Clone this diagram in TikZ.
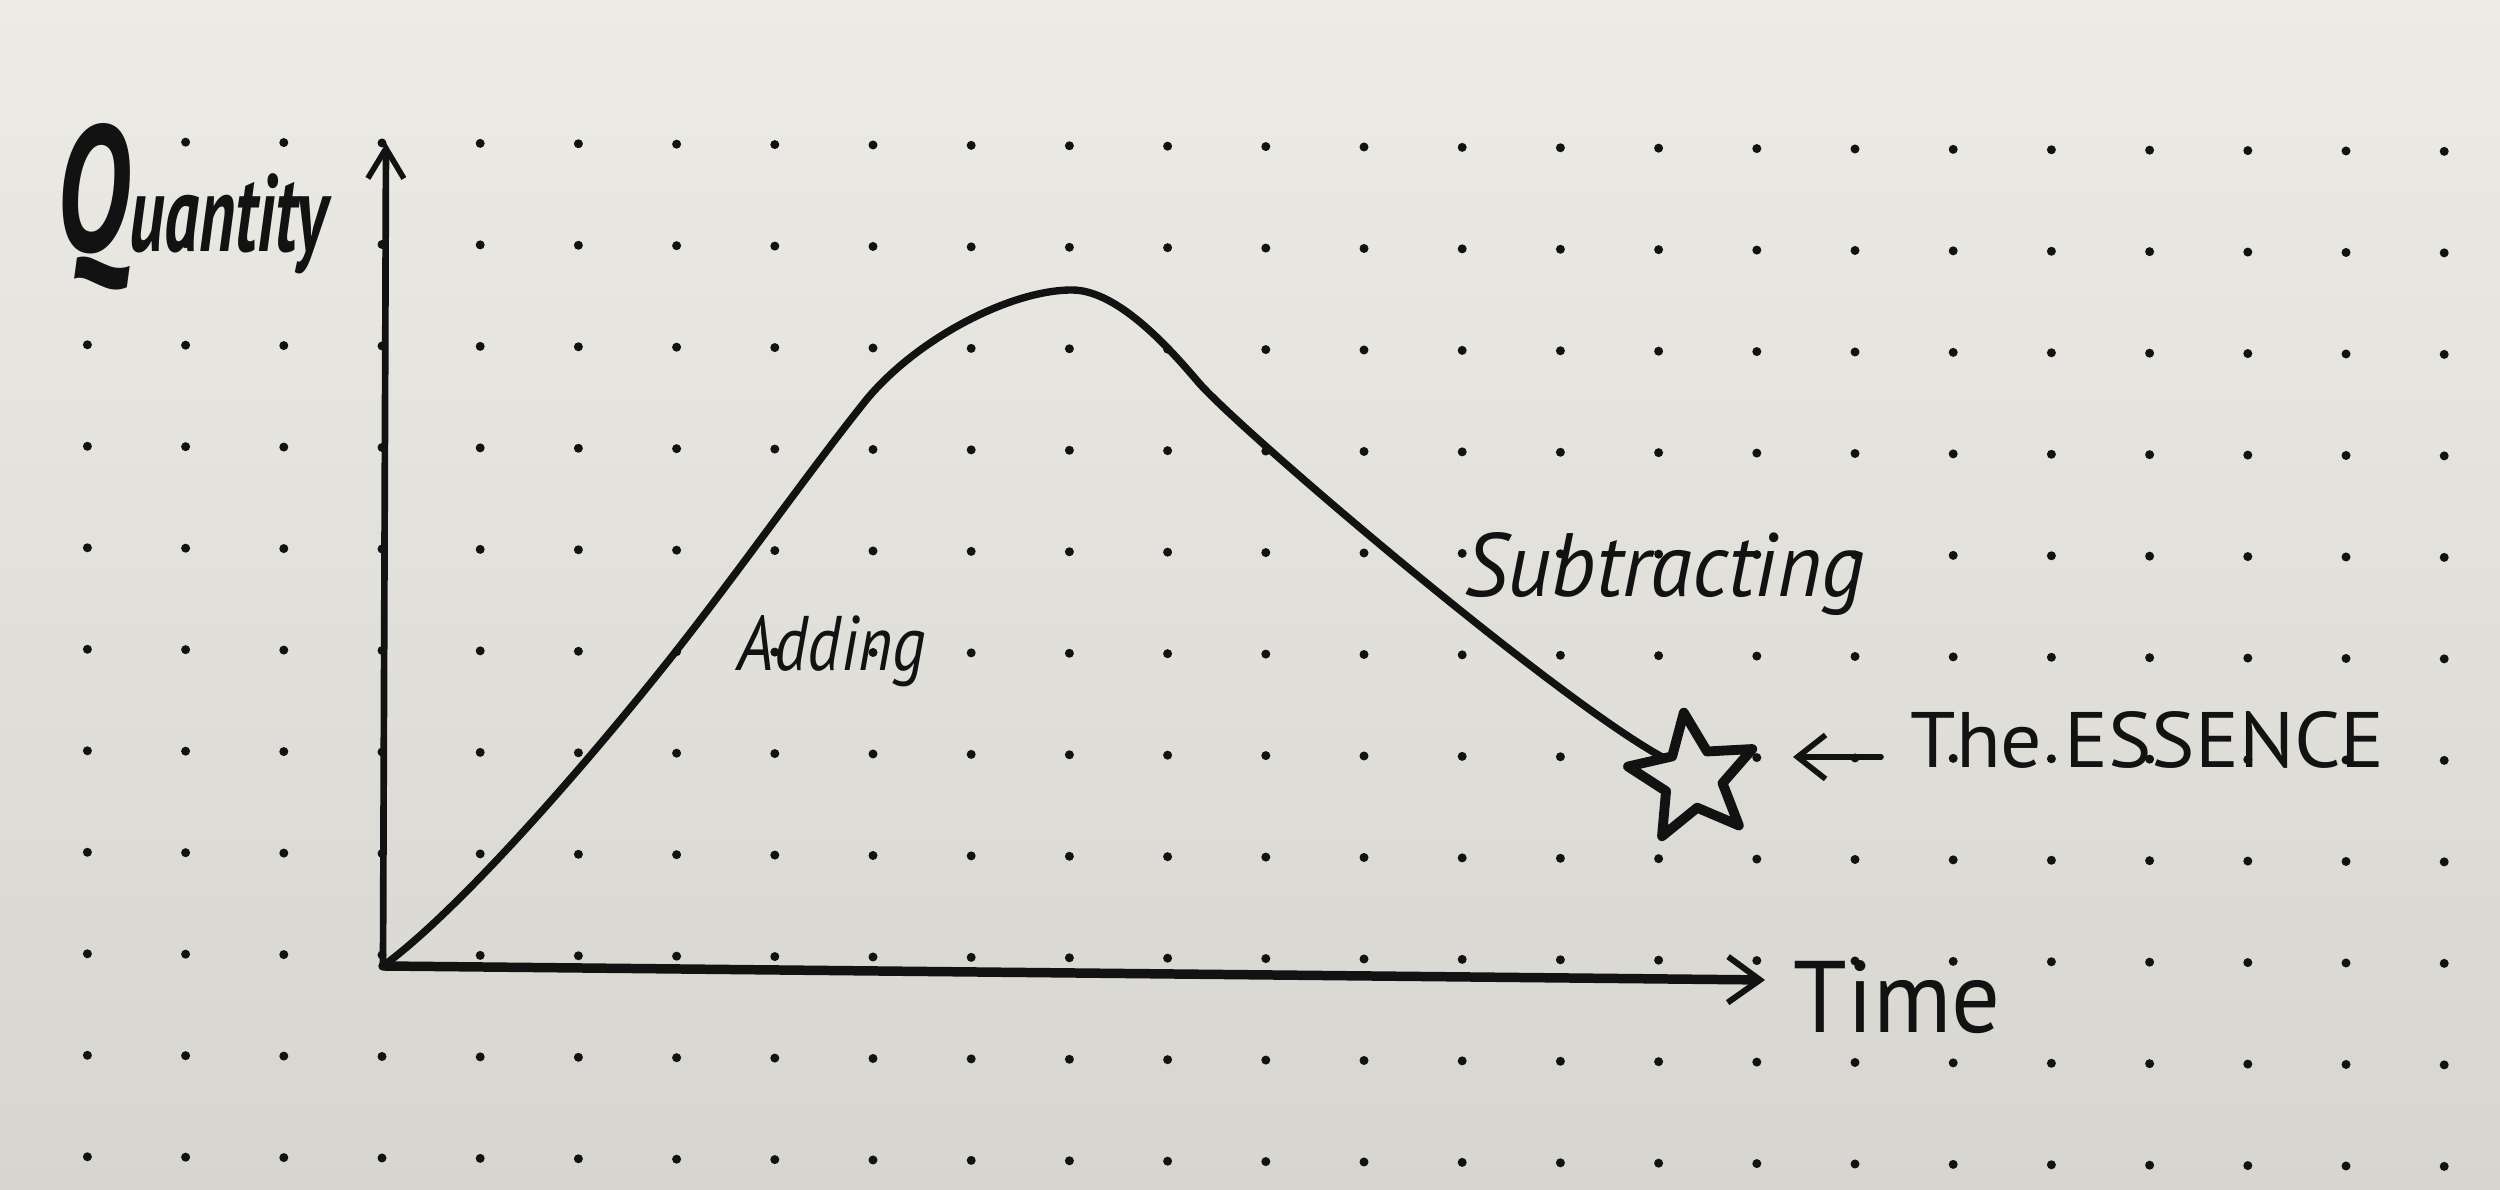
\documentclass[tikz,border=0pt]{standalone}
\usepackage{fontspec}
\setmainfont{PT Sans}
\usetikzlibrary{shapes.geometric,arrows.meta}
\definecolor{papertop}{RGB}{236,235,230}
\definecolor{paperbottom}{RGB}{214,213,208}
\definecolor{ink}{RGB}{18,18,18}
\begin{document}
\begin{tikzpicture}[x=1cm,y=1cm,
  gridpoint/.style={fill=ink},
  yaxisline/.style={draw=ink,line width=1.9pt,line cap=round,
    -{Straight Barb[length=3mm,width=3.6mm,line width=1.6pt]}},
  xaxisline/.style={draw=ink,line width=2.7pt,line cap=round,
    -{Straight Barb[length=3.2mm,width=4.6mm,line width=1.7pt]}},
  pointer/.style={draw=ink,line width=1.6pt,line cap=round,
    -{Straight Barb[length=2.8mm,width=4.4mm,line width=1.6pt]}},
  curveline/.style={draw=ink,line width=2.1pt,line cap=round,line join=round},
  label/.style={anchor=base west,inner sep=0pt,text=ink},
  starbox/.style={star,star points=5,star point ratio=2.2,minimum size=1.32cm,
    draw=ink,line width=2.8pt,line join=round,inner sep=0pt,rotate=8}
]
\shade[top color=papertop,bottom color=paperbottom] (0,0) rectangle (25,11.9);
\useasboundingbox (0,0) rectangle (25,11.9);
% dot grid
\foreach \k in {-3,...,21}{
  \foreach \j in {0,...,10}{
    \fill[gridpoint] ({3.82+0.982*\k},{10.47-1.015*\j-0.004*\k}) circle (0.045);
  }
}
% axes
\coordinate (O) at (3.83,2.24);
\coordinate (ytop) at (3.86,10.47);
\coordinate (xend) at (17.65,2.10);
\draw[yaxisline] (O) -- (ytop);
\draw[xaxisline] (O) -- (xend);
% star
\node[starbox] (essencestar) at (16.93,4.12) {};
% curve
\coordinate (curveend) at (16.62,4.33);
\draw[curveline] (O)
  .. controls (4.6,2.8) and (5.9,4.3) .. (6.73,5.35)
  .. controls (7.4,6.2) and (8.1,7.2) .. (8.67,7.91)
  .. controls (9.17,8.51) and (10.1,9.0) .. (10.72,9.0)
  .. controls (11.2,9.0) and (11.75,8.35) .. (11.99,8.07)
  .. controls (12.4,7.6) and (15.5,4.95) .. (curveend);
% labels
\node[label] (quantity) at (0.56,9.38)
  {\resizebox{2.71cm}{1.28cm}{\bfseries\itshape{\fontsize{36}{36}\selectfont Q}{\fontsize{22}{22}\selectfont uantity}}};
\node[label] (adding) at (7.37,5.19) {\resizebox{1.88cm}{0.55cm}{\itshape Adding}};
\node[label] (subtracting) at (14.64,5.93) {\resizebox{4.0cm}{0.64cm}{\itshape Subtracting}};
\node[label] (essence) at (19.1,4.22) {\resizebox{4.74cm}{0.56cm}{The ESSENCE}};
\node[label] (time) at (17.93,1.57) {\resizebox{2.07cm}{0.72cm}{Time}};
% pointer arrow
\coordinate (pointerstart) at (18.81,4.33);
\coordinate (pointerend) at (17.93,4.33);
\draw[pointer] (pointerstart) -- (pointerend);
\end{tikzpicture}
\end{document}
